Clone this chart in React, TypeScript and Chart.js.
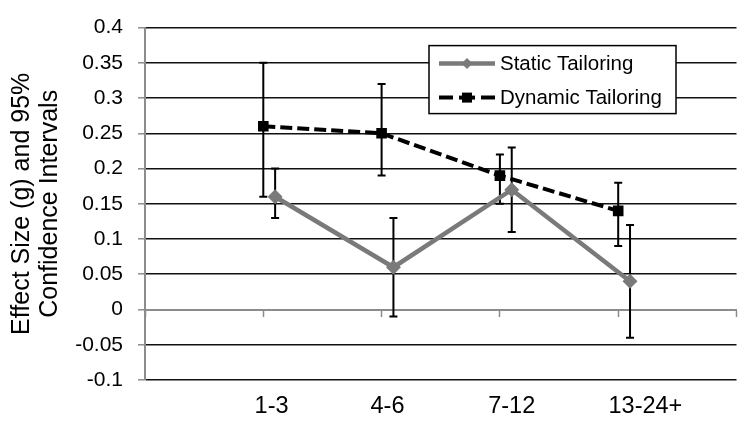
import React, { useEffect, useRef } from 'react';
import { Chart, registerables } from 'chart.js';

Chart.register(...registerables);

// ---- Data ----
const categories = ['1-3', '4-6', '7-12', '13-24+'];
const categoryLabelPositions = [1.07, 2.05, 3.1, 4.23];

const seriesNames = ['Static Tailoring', 'Dynamic Tailoring'];

const staticX = [1.1, 2.1, 3.1, 4.1];
const staticValues = [0.16, 0.06, 0.17, 0.04];
const staticLower = [0.13, -0.01, 0.11, -0.04];
const staticUpper = [0.2, 0.13, 0.23, 0.12];

const dynamicX = [1, 2, 3, 4];
const dynamicValues = [0.26, 0.25, 0.19, 0.14];
const dynamicLower = [0.16, 0.19, 0.15, 0.09];
const dynamicUpper = [0.35, 0.32, 0.22, 0.18];

const yMin = -0.1;
const yMax = 0.4;
const yStep = 0.05;
const xMin = 0;
const xMax = 5;

const yTitle = ['Effect Size (g) and 95%', 'Confidence Intervals'];

const FONT = "'Liberation Sans', Arial, sans-serif";
const STATIC_COLOR = '#7a7a7a';
const DYNAMIC_COLOR = '#000000';
const AXIS_GRAY = '#8c8c8c';

const errorBarPlugin = {
  id: 'errorBars',
  beforeDatasetsDraw(chart: any) {
    const { ctx, scales } = chart;
    const x = scales.x;
    const y = scales.y;
    const sets = [
      { xs: dynamicX, lo: dynamicLower, hi: dynamicUpper },
      { xs: staticX, lo: staticLower, hi: staticUpper },
    ];
    ctx.save();
    ctx.strokeStyle = '#000';
    ctx.lineWidth = 2;
    const cap = 4;
    sets.forEach((s) => {
      s.xs.forEach((xv, i) => {
        const px = x.getPixelForValue(xv);
        const top = y.getPixelForValue(s.hi[i]);
        const bot = y.getPixelForValue(s.lo[i]);
        ctx.beginPath();
        ctx.moveTo(px, top);
        ctx.lineTo(px, bot);
        ctx.moveTo(px - cap, top);
        ctx.lineTo(px + cap, top);
        ctx.moveTo(px - cap, bot);
        ctx.lineTo(px + cap, bot);
        ctx.stroke();
      });
    });
    ctx.restore();
  },
};

const legendPlugin = {
  id: 'boxLegend',
  afterDraw(chart: any) {
    const { ctx, chartArea } = chart;
    const bx = chartArea.left + 284;
    const by = chartArea.top + 18;
    const bw = 247;
    const bh = 68;
    ctx.save();
    ctx.fillStyle = '#fff';
    ctx.fillRect(bx, by, bw, bh);
    ctx.strokeStyle = '#000';
    ctx.lineWidth = 1.5;
    ctx.strokeRect(bx, by, bw, bh);

    const x0 = bx + 10;
    const x1 = bx + 66;
    const cx = (x0 + x1) / 2;

    // Static row
    const y1 = by + 18;
    ctx.strokeStyle = STATIC_COLOR;
    ctx.lineWidth = 4.5;
    ctx.beginPath();
    ctx.moveTo(x0, y1);
    ctx.lineTo(x1, y1);
    ctx.stroke();
    ctx.fillStyle = STATIC_COLOR;
    const s = 5.5;
    ctx.beginPath();
    ctx.moveTo(cx, y1 - s);
    ctx.lineTo(cx + s, y1);
    ctx.lineTo(cx, y1 + s);
    ctx.lineTo(cx - s, y1);
    ctx.closePath();
    ctx.fill();

    // Dynamic row
    const y2 = by + 52;
    ctx.strokeStyle = DYNAMIC_COLOR;
    ctx.lineWidth = 4;
    ctx.beginPath();
    ctx.moveTo(x0, y2);
    ctx.lineTo(x0 + 14, y2);
    ctx.moveTo(x1 - 14, y2);
    ctx.lineTo(x1, y2);
    ctx.stroke();
    ctx.fillStyle = DYNAMIC_COLOR;
    ctx.fillRect(cx - 5, y2 - 5, 10, 10);
    ctx.fillRect(cx - 8, y2 - 2, 16, 4);

    ctx.fillStyle = '#000';
    ctx.font = `20.5px ${FONT}`;
    ctx.textBaseline = 'middle';
    ctx.textAlign = 'left';
    ctx.fillText(seriesNames[0], bx + 71, y1 + 1);
    ctx.fillText(seriesNames[1], bx + 71, y2 + 1);
    ctx.restore();
  },
};

export default function App() {
  const canvasRef = useRef<HTMLCanvasElement | null>(null);

  useEffect(() => {
    const canvas = canvasRef.current;
    if (!canvas) return;

    const chart = new Chart(canvas, {
      type: 'line',
      data: {
        datasets: [
          {
            label: seriesNames[0],
            data: staticX.map((xv, i) => ({ x: xv, y: staticValues[i] })),
            borderColor: STATIC_COLOR,
            backgroundColor: STATIC_COLOR,
            borderWidth: 4.5,
            pointStyle: 'rectRot',
            pointRadius: 7.5,
            pointBorderWidth: 0,
            pointBackgroundColor: STATIC_COLOR,
            tension: 0,
          },
          {
            label: seriesNames[1],
            data: dynamicX.map((xv, i) => ({ x: xv, y: dynamicValues[i] })),
            borderColor: DYNAMIC_COLOR,
            backgroundColor: DYNAMIC_COLOR,
            borderWidth: 4,
            borderDash: [12, 5],
            pointStyle: 'rect',
            pointRadius: 7.5,
            pointBorderWidth: 0,
            pointBackgroundColor: DYNAMIC_COLOR,
            tension: 0,
          },
        ],
      },
      options: {
        animation: false,
        responsive: false,
        maintainAspectRatio: false,
        layout: { padding: { left: 0, top: 17, right: 18.5, bottom: 0 } },
        plugins: {
          legend: { display: false },
          tooltip: { enabled: false },
        },
        scales: {
          x: {
            type: 'linear',
            min: xMin,
            max: xMax,
            position: { y: 0 } as any,
            ticks: { display: false, stepSize: 1 },
            grid: {
              drawOnChartArea: false,
              drawTicks: true,
              tickLength: 6,
              tickColor: AXIS_GRAY,
              tickWidth: 1.5,
            },
            border: { color: AXIS_GRAY, width: 2 },
          },
          x2: {
            type: 'linear',
            min: xMin,
            max: xMax,
            position: 'bottom',
            afterBuildTicks: (scale: any) => {
              scale.ticks = categoryLabelPositions.map((v) => ({ value: v }));
            },
            afterFit: (scale: any) => {
              scale.height = 47;
            },
            ticks: {
              autoSkip: false,
              maxRotation: 0,
              padding: 12,
              color: '#000',
              font: { family: FONT, size: 23.5 },
              callback: (_v: any, i: number) => categories[i],
            },
            grid: { display: false, drawTicks: false },
            border: { display: false },
          },
          y: {
            type: 'linear',
            min: yMin,
            max: yMax,
            afterFit: (scale: any) => {
              scale.width = 145;
            },
            ticks: {
              stepSize: yStep,
              padding: 15,
              color: '#000',
              font: { family: FONT, size: 21 },
              callback: (v: any) => String(parseFloat(Number(v).toFixed(2))),
            },
            grid: {
              color: (c: any) => (c.tick && Math.abs(c.tick.value) < 1e-9 ? 'rgba(0,0,0,0)' : '#111'),
              lineWidth: 1.6,
              drawTicks: true,
              tickLength: 7,
              tickColor: AXIS_GRAY,
              tickWidth: 1.5,
            },
            border: { color: AXIS_GRAY, width: 2 },
            title: {
              display: true,
              text: yTitle,
              color: '#000',
              font: { family: FONT, size: 25, lineHeight: 1.12 },
              padding: { top: 8, bottom: 0 },
            },
          },
        },
      },
      plugins: [errorBarPlugin, legendPlugin],
    } as any);

    return () => {
      chart.destroy();
    };
  }, []);

  return (
    <div style={{ position: 'fixed', left: 0, top: 0, width: 755, height: 427, background: '#fff' }}>
      <canvas ref={canvasRef} width={755} height={427} style={{ width: 755, height: 427, display: 'block' }} />
    </div>
  );
}
